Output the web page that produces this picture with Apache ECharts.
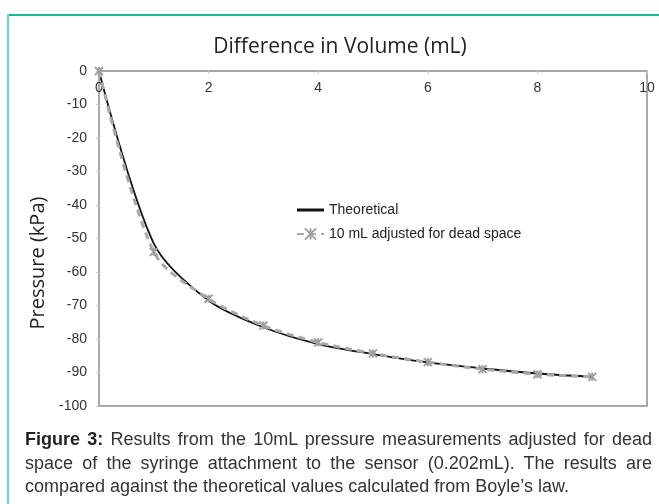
<!DOCTYPE html>
<html>
<head>
<meta charset="utf-8">
<script src="https://cdn.jsdelivr.net/npm/echarts@6/dist/echarts.min.js"></script>
<style>
  html, body { margin: 0; padding: 0; background: #fff; }
  #wrap { position: relative; width: 659px; height: 504px; overflow: hidden; }
  #chart { position: absolute; left: 0; top: 0; width: 659px; height: 504px; }
  .frameTop { position: absolute; left: 7px; top: 14px; right: 0; height: 2px; background: #1bb49f; }
  .frameLeft { position: absolute; left: 7px; top: 14px; bottom: 0; width: 2px; background: #6fd5c9; }
  #caption {
    position: absolute; left: 25px; top: 428px; width: 627px;
    font-family: "Liberation Sans", Arial, sans-serif; font-size: 18px;
    line-height: 23.5px; color: #333;
  }
  #caption .ln { text-align: justify; text-align-last: justify; white-space: nowrap; }
  #caption .ln.last { text-align-last: left; }
  #caption b { color: #222; }
</style>
</head>
<body>
<div id="wrap">
  <div id="chart"></div>
  <div class="frameTop"></div>
  <div class="frameLeft"></div>
  <div id="caption">
    <div class="ln"><b>Figure 3:</b> Results from the 10mL pressure measurements adjusted for dead</div>
    <div class="ln">space of the syringe attachment to the sensor (0.202mL). The results are</div>
    <div class="ln last">compared against the theoretical values calculated from Boyle’s law.</div>
  </div>
</div>
<script>
// volume difference (mL)
var volume = [0, 1, 2, 3, 4, 5, 6, 7, 8, 9];
// pressure (kPa)
var theoretical = [0, -51.5, -68.5, -76.5, -81.5, -84.5, -87, -88.8, -90.3, -91.3];
var adjusted = [0, -54, -68, -76, -81, -84.3, -86.9, -89, -90.5, -91.3];
var yTicks = [0, -10, -20, -30, -40, -50, -60, -70, -80, -90, -100];

function pairs(xs, ys) {
  var out = [];
  for (var i = 0; i < xs.length; i++) out.push([xs[i], ys[i]]);
  return out;
}

var starPath = 'path://M0,0L10,10M10,0L0,10M5,0L5,10';

var chart = echarts.init(document.getElementById('chart'));
chart.setOption({
  animation: false,
  backgroundColor: 'transparent',
  grid: {
    left: 99, top: 71, width: 548, height: 335,
    show: true, borderColor: '#8e8e8e', borderWidth: 1.5
  },
  graphic: [
    {
      type: 'text', x: 340, y: 47,
      style: {
        text: 'Difference in Volume (mL)', fill: '#222',
        font: '21px "Open Sans", sans-serif',
        align: 'center', verticalAlign: 'middle'
      }
    },
    {
      type: 'text', x: 38, y: 263, rotation: Math.PI / 2,
      style: {
        text: 'Pressure (kPa)', fill: '#222',
        font: '20px "Open Sans", sans-serif',
        align: 'center', verticalAlign: 'middle'
      }
    }
  ],
  legend: {
    left: 291, top: 198, orient: 'vertical',
    itemWidth: 27, itemHeight: 14, itemGap: 10,
    textStyle: { fontFamily: '"Liberation Sans", Arial', fontSize: 14, color: '#222' },
    data: [
      { name: 'Theoretical', icon: 'path://M0,0H27V3H0Z' },
      { name: '10 mL adjusted for dead space' }
    ]
  },
  xAxis: {
    type: 'value', position: 'top', min: 0, max: 10, interval: 2,
    axisLine: { lineStyle: { color: '#a8a8a8', width: 1.5 } },
    axisTick: { inside: true, length: 3, lineStyle: { color: '#ccc' } },
    axisLabel: { inside: true, margin: 10, color: '#333', fontFamily: '"Liberation Sans", Arial', fontSize: 14 },
    splitLine: { show: false }
  },
  yAxis: {
    type: 'value', min: -100, max: 0, interval: 10,
    axisLine: { show: true, lineStyle: { color: '#a8a8a8', width: 1.5 } },
    axisTick: { show: true, length: 3, lineStyle: { color: '#ccc' } },
    axisLabel: {
      margin: 12, color: '#333', fontFamily: '"Liberation Sans", Arial', fontSize: 14,
      formatter: function (v) { return yTicks.indexOf(v) >= 0 ? String(v) : ''; }
    },
    splitLine: { show: false }
  },
  series: [
    {
      name: 'Theoretical', type: 'line', smooth: 0.3,
      symbol: 'none', z: 2,
      lineStyle: { color: '#111', width: 1.8 },
      itemStyle: { color: '#111' },
      data: pairs(volume, theoretical)
    },
    {
      name: '10 mL adjusted for dead space', type: 'line', smooth: 0.3,
      symbol: starPath, symbolSize: 8, z: 3,
      lineStyle: { color: '#a9a9a9', width: 3, type: [7, 5] },
      itemStyle: { color: 'rgba(0,0,0,0)', borderColor: '#a0a0a0', borderWidth: 2 },
      data: pairs(volume, adjusted)
    }
  ]
});
</script>
</body>
</html>
